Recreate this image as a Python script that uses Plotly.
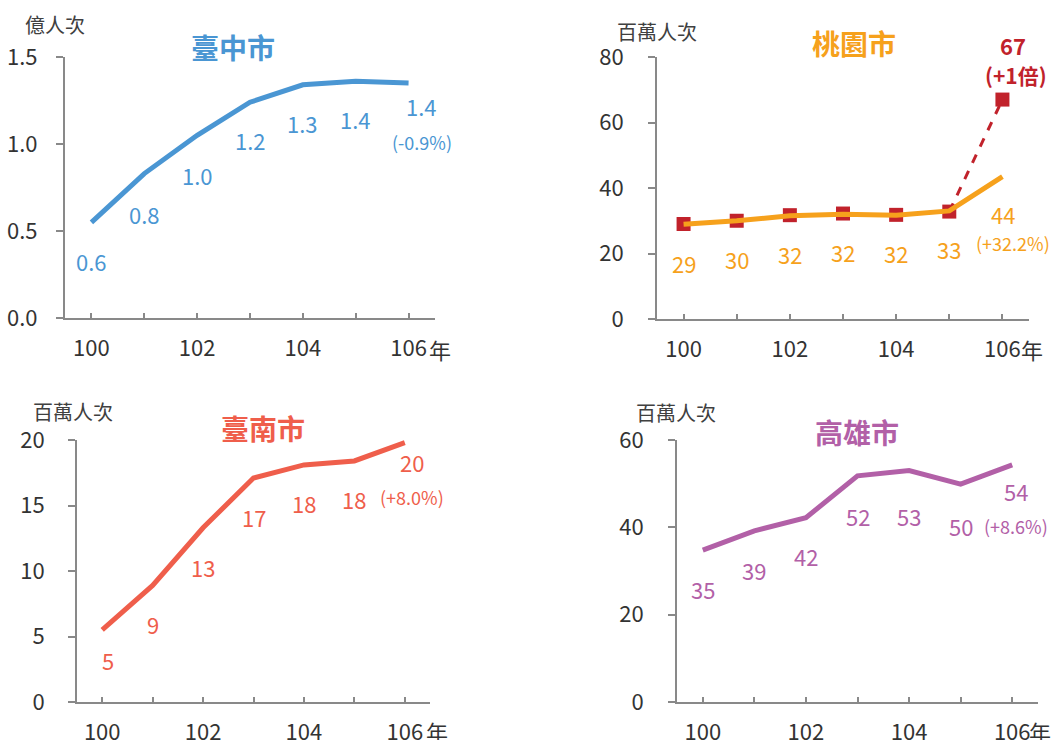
import plotly.graph_objects as go

# ---------------- data ----------------
years = [100, 101, 102, 103, 104, 105, 106]
x_tick_vals = [100, 101, 102, 103, 104, 105, 106, 106.5]
x_tick_text = ["100", "", "102", "", "104", "", "106", ""]

taichung = [0.55, 0.83, 1.05, 1.24, 1.34, 1.36, 1.35]
taichung_labels = ["0.6", "0.8", "1.0", "1.2", "1.3", "1.4", "1.4"]
taichung_growth = "(-0.9%)"

taoyuan = [28.9, 30.0, 31.5, 32.0, 31.7, 33.0, 43.5]
taoyuan_labels = ["29", "30", "32", "32", "32", "33", "44"]
taoyuan_growth = "(+32.2%)"
taoyuan_alt = [29.0, 30.0, 31.7, 32.2, 31.8, 32.8, 67.0]
taoyuan_alt_label = "67"
taoyuan_alt_growth = "(+1倍)"

tainan = [5.5, 8.9, 13.3, 17.1, 18.1, 18.4, 19.8]
tainan_labels = ["5", "9", "13", "17", "18", "18", "20"]
tainan_growth = "(+8.0%)"

kaohsiung = [34.8, 39.2, 42.2, 51.8, 53.0, 49.9, 54.3]
kaohsiung_labels = ["35", "39", "42", "52", "53", "50", "54"]
kaohsiung_growth = "(+8.6%)"

titles = ["臺中市", "桃園市", "臺南市", "高雄市"]
units = ["億人次", "百萬人次", "百萬人次", "百萬人次"]

# ---------------- style ----------------
W, H = 1056, 740
FONT = "Noto Sans CJK TC, Noto Sans, sans-serif"
C_BLUE = "#4A96D3"
C_ORANGE = "#F6A11C"
C_RED = "#C1222B"
C_TOMATO = "#EF5E4B"
C_PURPLE = "#B260A7"
AXIS = "#898989"
TXT = "#333333"

# panel pixel boxes: (left, right, top, bottom)
boxes = [(65, 435, 57, 318), (657, 1029, 57, 319), (77, 430, 440, 702), (677, 1038, 440, 702)]
yranges = [[0, 1.5], [0, 80], [0, 20], [0, 60]]
ydticks = [0.5, 20, 5, 20]
ytickfmt = [".1f", "d", "d", "d"]
ystandoff = [14, 20, 19, 20]

fig = go.Figure()

def px_x(v):
    return v / W

def px_y(v):
    return 1 - v / H

for i, (l, r, t, b) in enumerate(boxes):
    n = "" if i == 0 else str(i + 1)
    fig.layout["xaxis" + n] = dict(
        domain=[px_x(l), px_x(r)], anchor="y" + n, range=[99.5, 106.5],
        tickmode="array", tickvals=x_tick_vals, ticktext=x_tick_text,
        ticks="inside", ticklen=5, tickwidth=2, tickcolor=AXIS,
        showline=True, linecolor=AXIS, linewidth=2, showgrid=False, zeroline=False,
        tickfont=dict(family=FONT, size=22, color=TXT), ticklabelstandoff=10,
        automargin=False,
    )
    fig.layout["yaxis" + n] = dict(
        domain=[px_y(b), px_y(t)], anchor="x" + n, range=yranges[i],
        dtick=ydticks[i], tick0=0, tickformat=ytickfmt[i],
        ticks="outside", ticklen=7, tickwidth=2, tickcolor=AXIS,
        showline=True, linecolor=AXIS, linewidth=2, showgrid=False, zeroline=False,
        tickfont=dict(family=FONT, size=22, color=TXT), ticklabelstandoff=ystandoff[i],
        automargin=False,
    )

# traces
fig.add_trace(go.Scatter(x=years, y=taichung, mode="lines", line=dict(color=C_BLUE, width=5),
                         xaxis="x", yaxis="y", hoverinfo="skip"))
fig.add_trace(go.Scatter(x=years[-2:], y=taoyuan_alt[-2:], mode="lines",
                         line=dict(color=C_RED, width=3, dash="dash"),
                         xaxis="x2", yaxis="y2", hoverinfo="skip"))
fig.add_trace(go.Scatter(x=years, y=taoyuan_alt, mode="markers",
                         marker=dict(color=C_RED, size=14, symbol="square"),
                         xaxis="x2", yaxis="y2", hoverinfo="skip"))
fig.add_trace(go.Scatter(x=years, y=taoyuan, mode="lines", line=dict(color=C_ORANGE, width=5),
                         xaxis="x2", yaxis="y2", hoverinfo="skip"))
fig.add_trace(go.Scatter(x=years, y=tainan, mode="lines", line=dict(color=C_TOMATO, width=5),
                         xaxis="x3", yaxis="y3", hoverinfo="skip"))
fig.add_trace(go.Scatter(x=years, y=kaohsiung, mode="lines", line=dict(color=C_PURPLE, width=5),
                         xaxis="x4", yaxis="y4", hoverinfo="skip"))

annotations = []

def lab(xa, ya, x, y, text, color, size=22, xs=0, ys=0, bold=False):
    annotations.append(dict(
        x=x, y=y, xref=xa, yref=ya, text=("<b>%s</b>" % text) if bold else text,
        showarrow=False, xshift=xs, yshift=ys, xanchor="center", yanchor="middle",
        font=dict(family=FONT, size=size, color=color)))

# per-panel label offsets (pixels)
series = [
    ("x", "y", taichung, taichung_labels, C_BLUE, [-39, -40, -40, -38, -38, -38], [0] * 6,
     (-23, 13), (taichung_growth, -59, 13)),
    ("x2", "y2", taoyuan, taoyuan_labels, C_ORANGE, [-39, -38, -38, -38, -38, -38], [0] * 6,
     (-37, 1), (taoyuan_growth, -66, 11)),
    ("x3", "y3", tainan, tainan_labels, C_TOMATO, [-30, -39, -39, -39, -38, -38], [6, 0, 0, 0, 0, 0],
     (-19, 7), (tainan_growth, -54, 7)),
    ("x4", "y4", kaohsiung, kaohsiung_labels, C_PURPLE, [-39, -39, -38, -40, -45, -42], [0] * 6,
     (-26, 4), (kaohsiung_growth, -61, 4)),
]
for xa, ya, vals, labels, color, yss, xss, last, growth in series:
    for k in range(6):
        lab(xa, ya, years[k], vals[k], labels[k], color, xs=xss[k], ys=yss[k])
    lab(xa, ya, years[6], vals[6], labels[6], color, xs=last[1], ys=last[0])
    lab(xa, ya, years[6], vals[6], growth[0], color, size=18, xs=growth[2], ys=growth[1])

lab("x2", "y2", years[6], taoyuan_alt[6], taoyuan_alt_label, C_RED, size=22, xs=11, ys=55, bold=True)
lab("x2", "y2", years[6], taoyuan_alt[6], taoyuan_alt_growth, C_RED, size=21, xs=14, ys=25, bold=True)

# titles and unit labels (paper positions)
title_pos = [(233, 47), (854, 43), (263, 428), (857, 432)]
title_col = [C_BLUE, C_ORANGE, C_TOMATO, C_PURPLE]
unit_pos = [(55, 24), (657, 31), (73, 411), (676, 412)]
nian_pos = [(440, 349), (1032, 349), (437, 731), (1040, 731)]

def paper_note(px, py, text, size, color):
    annotations.append(dict(x=px_x(px), y=px_y(py), xref="paper", yref="paper",
                            xanchor="center", yanchor="middle", text=text, showarrow=False,
                            font=dict(family=FONT, size=size, color=color)))

for i in range(4):
    paper_note(title_pos[i][0], title_pos[i][1], "<b>%s</b>" % titles[i], 28, title_col[i])
    paper_note(unit_pos[i][0], unit_pos[i][1], units[i], 20, "#404040")
    paper_note(nian_pos[i][0], nian_pos[i][1], "年", 22, TXT)

fig.update_layout(
    width=W, height=H, margin=dict(l=0, r=0, t=0, b=0),
    paper_bgcolor="white", plot_bgcolor="white", showlegend=False,
    annotations=annotations, font=dict(family=FONT),
)

fig.write_html("out.html", config={"displayModeBar": False},
               post_script="document.body.style.margin='0';document.body.style.overflow='hidden';")
